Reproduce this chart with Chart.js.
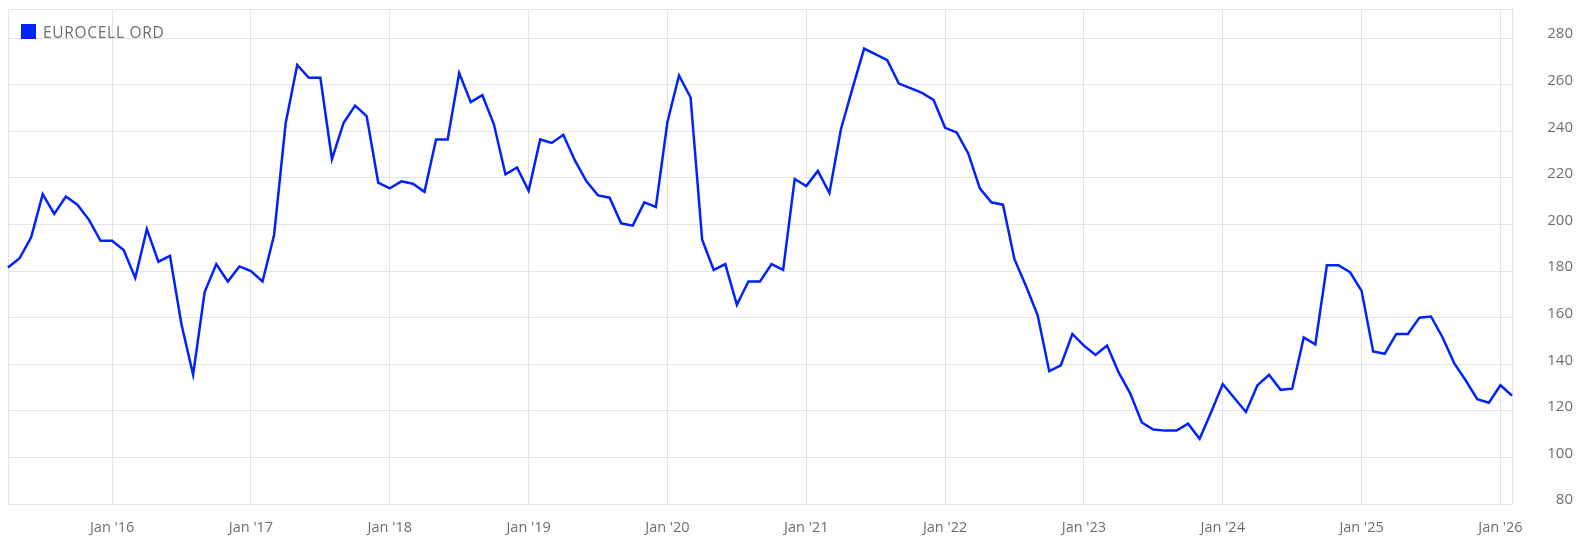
<!DOCTYPE html>
<html>
<head>
<meta charset="utf-8">
<script src="https://cdn.jsdelivr.net/npm/chart.js@4.4.1/dist/chart.umd.min.js"></script>
<style>
  html, body { margin: 0; padding: 0; background: #fff; }
  #wrap { width: 1583px; height: 548px; }
</style>
</head>
<body>
<div id="wrap"><canvas id="myChart" width="1583" height="548"></canvas></div>
<script>
// monthly closes, Apr 2015 .. Feb 2026
var months = [];
var monthNames = ['Jan','Feb','Mar','Apr','May','Jun','Jul','Aug','Sep','Oct','Nov','Dec'];
for (var y = 2015; y <= 2026; y++) {
  for (var m = 0; m < 12; m++) {
    if (y === 2015 && m < 3) continue;
    if (y === 2026 && m > 1) continue;
    months.push(monthNames[m] + " '" + String(y).slice(2));
  }
}

var seriesName = 'EUROCELL ORD';
var prices = [
  181.5, 185.5, 194.5, 213, 204.5, 212, 208.5, 202, 193,
  193, 189, 177, 198, 184, 186.5, 157, 135.5, 171, 183, 175.5, 182, 180,
  175.5, 195.5, 243.5, 268.5, 263, 263, 228, 243.5, 251, 246.5, 218, 215.5,
  218.5, 217.5, 214, 236.5, 236.5, 265, 252.5, 255.5, 243, 221.5, 224.5, 214.5,
  236.5, 235, 238.5, 227.5, 218.5, 212.5, 211.5, 200.5, 199.5, 209.5, 207.5, 244,
  264, 254.5, 193.5, 180.5, 183, 165.5, 175.5, 175.5, 183, 180.5, 219.5, 216.5,
  223, 213.5, 241, 258.5, 275.5, 273, 270.5, 260.5, 258.5, 256.5, 253.5, 241.5,
  239.5, 230.5, 215.5, 209.5, 208.5, 185, 173.5, 161, 137, 139.5, 153, 148,
  144, 148, 136.5, 127.5, 115, 112, 111.5, 111.5, 114.5, 108, 119.5, 131.5,
  125.5, 119.5, 131, 135.5, 129, 129.5, 151.5, 148.5, 182.5, 182.5, 179.5, 171.5,
  145.5, 144.5, 153, 153, 160, 160.5, 151.5, 140.5, 133, 125, 123.5, 131,
  126.5
];
var yTicks = [80, 100, 120, 140, 160, 180, 200, 220, 240, 260, 280];

var gridColor = '#e4e4e4';
var lineColor = '#0022ff';
var textColor = '#6e6e6e';
var fontFamily = "'Open Sans', sans-serif";

var legendInside = {
  id: 'legendInside',
  afterDatasetsDraw: function (chart) {
    var ctx = chart.ctx;
    var ds = chart.data.datasets[0];
    ctx.save();
    ctx.fillStyle = ds.borderColor;
    ctx.fillRect(21, 24, 15, 15);
    ctx.fillStyle = textColor;
    ctx.font = '15.5px ' + fontFamily;
    ctx.letterSpacing = '0.7px';
    ctx.textBaseline = 'middle';
    ctx.fillText(ds.label, 43, 34);
    ctx.restore();
  }
};

function renderChart() {
  var ctx = document.getElementById('myChart').getContext('2d');
  var myChart = new Chart(ctx, {
    type: 'line',
    data: {
      labels: months,
      datasets: [{
        label: seriesName,
        data: prices,
        borderColor: lineColor,
        backgroundColor: lineColor,
        borderWidth: 2.5,
        pointRadius: 0,
        tension: 0
      }]
    },
    options: {
      responsive: false,
      animation: false,
      layout: { padding: { left: 8, top: 9, right: 10, bottom: 0 } },
      plugins: {
        legend: { display: false },
        tooltip: { enabled: false }
      },
      scales: {
        x: {
          type: 'category',
          offset: false,
          grid: {
            drawTicks: false,
            color: function (c) {
              var i = c.index;
              if (i === 0 || (months[i] && months[i].indexOf('Jan') === 0)) return gridColor;
              return 'rgba(0,0,0,0)';
            }
          },
          border: { color: gridColor },
          ticks: {
            autoSkip: false,
            maxRotation: 0,
            padding: 15.5,
            color: textColor,
            font: { family: fontFamily, size: 14.5 },
            callback: function (v, i) {
              return months[i].indexOf('Jan') === 0 ? months[i] : '';
            }
          },
          afterFit: function (s) { s.height = 44; s.paddingLeft = 0; s.paddingRight = 0; }
        },
        y: {
          position: 'right',
          min: 80,
          max: 292.5,
          grid: { drawTicks: false, color: gridColor },
          border: { color: gridColor },
          afterBuildTicks: function (s) {
            s.ticks = yTicks.map(function (v) { return { value: v }; });
            s.ticks.push({ value: 292.5 });
          },
          ticks: {
            padding: 36,
            crossAlign: 'far',
            labelOffset: -4,
            color: textColor,
            font: { family: fontFamily, size: 15 },
            callback: function (v) { return yTicks.indexOf(v) >= 0 ? String(v) : ''; }
          },
          afterFit: function (s) { s.width = 61; s.paddingTop = 0; s.paddingBottom = 0; }
        }
      }
    },
    plugins: [legendInside]
  });
}

renderChart();
</script>
</body>
</html>
